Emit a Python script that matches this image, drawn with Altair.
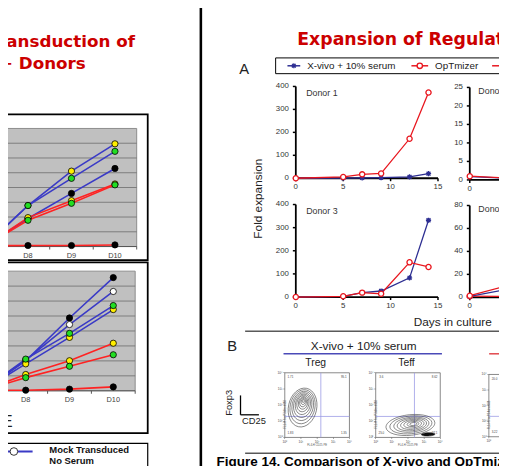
import altair as alt
import pandas as pd

OFF = 8
W, H = 499, 458


def p(v):
    """reference-picture pixel -> chart pixel (page has an 8 px margin)"""
    return v - OFF


SANS = "Liberation Sans"
HEAD = "DejaVu Sans"
TITLE_RED = "#cc0000"
RED = "#e8161e"
NAVY = "#2d2e92"
INK = "#222222"
ASTER = "M-1,0L1,0M0,-1L0,1M-0.75,-0.75L0.75,0.75M-0.75,0.75L0.75,-0.75"
TREG_RING = "M0,-1A0.72,1,0,1,1,0,1A0.72,1,0,1,1,0,-1Z"
TEFF_RING = "M-1,0A1,0.42,0,1,1,1,0A1,0.42,0,1,1,-1,0Z"
STREAK = "M-1,0A1,0.25,0,1,1,1,0A1,0.25,0,1,1,-1,0Z"

# ------------------------------------------------------------------ data
# Left slide: grey Excel-style growth charts (days D7..D10)
left_days = [7, 8, 9, 10]
left_day_labels = ["D8", "D9", "D10"]
left_day_ticks = [8, 9, 10]
left_band_edges = [7.5, 8.5, 9.5, 10.5]
left_x_domain = [6.5, 10.5]
left_y_domain = [0, 8]
left_grid = [1, 2, 3, 4, 5, 6, 7]
left_groups = ["Mock Transduced", "Transduced"]
left_conditions = ["No Serum", "Condition B", "Condition C", "Condition D"]

upper_group = ["Mock Transduced"] * 3 + ["Transduced"] * 3
upper_cond = ["Condition C", "Condition D", "Condition B",
              "Condition C", "Condition D", "Condition B"]
upper_values = [
    [0.0, 2.78, 5.11, 6.96],
    [0.0, 2.78, 4.62, 6.45],
    [0.0, 1.90, 3.60, 5.29],
    [0.0, 1.96, 3.11, 4.24],
    [0.0, 1.78, 2.93, 4.18],
    [0.05, 0.07, 0.07, 0.11],
]
lower_group = ["Mock Transduced"] * 4 + ["Transduced"] * 3
lower_cond = ["Condition B", "No Serum", "Condition C", "Condition D",
              "Condition C", "Condition D", "Condition B"]
lower_values = [
    [0.0, 2.00, 4.87, 7.57],
    [0.0, 2.05, 4.43, 6.64],
    [0.0, 1.80, 3.57, 5.43],
    [0.0, 2.12, 3.84, 5.70],
    [0.0, 1.09, 2.01, 3.18],
    [0.0, 0.88, 1.64, 2.41],
    [0.03, 0.04, 0.11, 0.26],
]

# Right slide, panel A: fold expansion per donor
media = ["X-vivo + 10% serum", "OpTmizer", "OpTmizer + serum"]
donor_x_domain = [0, 15]
donor_x_ticks = [0, 5, 10, 15]
donor_edge_x_ticks = [0]          # Donors 2 and 4 are cut by the picture's right edge
donor_days = [0, 5, 7, 9, 12, 14]
donor1_xvivo = [0, 1, 2, 3, 6, 20]
donor1_optmizer = [0, 5.6, 17, 21, 172, 374]
donor3_xvivo = [0, 3, 19, 26, 83, 332]
donor3_optmizer = [0, 3, 19, 14, 150, 130]
donor2_days = [0, 5]
donor2_xvivo = [0.9, 0.3]
donor2_optmizer = [1.0, 0.35]
donor4_days = [0, 5]
donor4_xvivo = [0.8, 8.5]
donor4_optmizer = [1.4, 12.5]
donor4_third = [1.0, 0.8]
donor13_y_domain = [0, 400]
donor13_y_ticks = [0, 100, 200, 300, 400]
donor2_y_domain = [0, 25]
donor2_y_ticks = [0, 5, 10, 15, 20, 25]
donor4_y_domain = [0, 80]
donor4_y_ticks = [0, 20, 40, 60, 80]

# Panel B: flow plots (log decades 10^0..10^4)
flow_domain = [0, 4]
flow_ticks = [0, 1, 2, 3, 4]
flow_tick_labels = ["10\u2070", "10\u00b9", "10\u00b2", "10\u00b3", "10\u2074"]
flow_x_title = "FL4-H CD25 PE"
flow_y_title = "FL1-H FoxP3 Alexa488"
treg_quadrant = [2.23, 1.30]
teff_quadrant = [2.40, 1.30]
third_quadrant = [2.30, 1.31]
treg_corner = ["1.71", "95.1", "1.83", "1.35"]
teff_corner = ["3.6", "8.62", "25.0", "27.1"]
third_corner = ["20.0", "", "3.22", ""]
corner_x = [0.35, 3.65, 0.35, 3.65]
corner_y = [3.72, 3.72, 0.28, 0.28]
treg_ring_extent = [2.43, 2.13, 1.83, 1.55, 1.28, 1.03, 0.79, 0.58, 0.37, 0.18]
treg_ring_x = [1.10, 1.10, 1.11, 1.11, 1.12, 1.12, 1.13, 1.13, 1.14, 1.14]
treg_ring_y = [1.85, 1.90, 1.95, 2.00, 2.05, 2.10, 2.14, 2.18, 2.22, 2.25]
teff_ring_extent = [3.04, 2.62, 2.19, 1.83, 1.46, 1.10, 0.73, 0.43]
teff_ring_x = [2.15, 2.18, 2.21, 2.24, 2.27, 2.29, 2.31, 2.33]
teff_ring_y = [0.77, 0.78, 0.79, 0.80, 0.81, 0.82, 0.83, 0.83]
teff_streak = {"x": [3.25], "y": [0.19], "e": [0.85]}


# ------------------------------------------------------------------ helpers
def text(t, x, y, size, font=SANS, weight="normal", color=INK, align="left",
         baseline="alphabetic", angle=0):
    return alt.Chart().mark_text(
        text=t, font=font, fontSize=size, fontWeight=weight, color=color,
        align=align, baseline=baseline, angle=angle
    ).encode(x=alt.value(x), y=alt.value(y))


def hrule(x0, x1, y, color="black", w=1.0):
    return alt.Chart().mark_rule(color=color, strokeWidth=w).encode(
        x=alt.value(x0), x2=alt.value(x1), y=alt.value(y))


def vrule(x, y0, y1, color="black", w=1.0):
    return alt.Chart().mark_rule(color=color, strokeWidth=w).encode(
        x=alt.value(x), y=alt.value(y0), y2=alt.value(y1))


def box(x0, x1, y0, y1, stroke="black", w=1.0, fill="white"):
    return alt.Chart().mark_rect(fill=fill, stroke=stroke, strokeWidth=w).encode(
        x=alt.value(x0), x2=alt.value(x1), y=alt.value(y0), y2=alt.value(y1))


def marker(x, y, shape, size, stroke, fill, w=1.3):
    return alt.Chart().mark_point(shape=shape, size=size, stroke=stroke, fill=fill,
                                  strokeWidth=w, filled=True, opacity=1).encode(
        x=alt.value(x), y=alt.value(y))


def X(field, xs):
    return alt.X(field, scale=xs, axis=None)


def Y(field, ys):
    return alt.Y(field, scale=ys, axis=None)


def bottom_axis(xs, ys, xdom, y0, ticks, labels, tick_pos=None, color="black", width=1.0,
                tick_len=3.0, tick_w=1.0, font_size=8, label_gap=2, label_color="#333333",
                title=None, title_size=3, title_gap=8):
    """x axis drawn from marks on the panel's own scales"""
    dom = pd.DataFrame({"a": [xdom[0]], "b": [xdom[1]], "y": [y0]})
    tp = ticks if tick_pos is None else tick_pos
    td = pd.DataFrame({"t": tp, "y": y0})
    ld = pd.DataFrame({"t": ticks, "lab": labels, "y": y0})
    out = []
    if width > 0:
        out.append(alt.Chart(dom).mark_rule(color=color, strokeWidth=width).encode(
            x=X("a:Q", xs), x2="b", y=Y("y:Q", ys)))
    out.append(alt.Chart(td).mark_tick(orient="vertical", size=tick_len, thickness=tick_w,
                                       yOffset=tick_len / 2, color=color, opacity=1).encode(
        x=X("t:Q", xs), y=Y("y:Q", ys)))
    if len(ticks):
        out.append(alt.Chart(ld).mark_text(baseline="top", dy=tick_len + label_gap,
                                           fontSize=font_size, font=SANS,
                                           color=label_color).encode(
            x=X("t:Q", xs), y=Y("y:Q", ys), text="lab:N"))
    if title:
        tdf = pd.DataFrame({"x": [(xdom[0] + xdom[1]) / 2], "y": [y0]})
        out.append(alt.Chart(tdf).mark_text(text=title, baseline="top", dy=title_gap,
                                            fontSize=title_size, font=SANS,
                                            color="#555555").encode(
            x=X("x:Q", xs), y=Y("y:Q", ys)))
    return out


def left_axis(xs, ys, ydom, x0, ticks, labels, color="black", width=1.0, tick_len=3.0,
              tick_w=1.0, font_size=8, label_gap=4, label_color="#333333",
              title=None, title_size=3, title_gap=8):
    """y axis drawn from marks on the panel's own scales"""
    dom = pd.DataFrame({"x": [x0], "a": [ydom[0]], "b": [ydom[1]]})
    td = pd.DataFrame({"t": ticks, "x": x0, "lab": labels})
    out = []
    if width > 0:
        out.append(alt.Chart(dom).mark_rule(color=color, strokeWidth=width).encode(
            x=X("x:Q", xs), y=Y("a:Q", ys), y2="b"))
    out.append(alt.Chart(td).mark_tick(orient="horizontal", size=tick_len, thickness=tick_w,
                                       xOffset=-tick_len / 2, color=color, opacity=1).encode(
        x=X("x:Q", xs), y=Y("t:Q", ys)))
    out.append(alt.Chart(td).mark_text(align="right", baseline="middle",
                                       dx=-(tick_len + label_gap), fontSize=font_size,
                                       font=SANS, color=label_color).encode(
        x=X("x:Q", xs), y=Y("t:Q", ys), text="lab:N"))
    if title:
        tdf = pd.DataFrame({"x": [x0], "y": [(ydom[0] + ydom[1]) / 2]})
        out.append(alt.Chart(tdf).mark_text(text=title, align="center", baseline="middle",
                                            angle=270, dx=-title_gap, fontSize=title_size,
                                            font=SANS, color="#555555").encode(
            x=X("x:Q", xs), y=Y("y:Q", ys)))
    return out


# ------------------------------------------------------------------ left charts
group_scale = alt.Scale(domain=left_groups, range=["#3a3ac6", "#ff2222"])
cond_scale = alt.Scale(domain=left_conditions,
                       range=["#ffffff", "#000000", "#ffee00", "#22dd22"])


def left_frame(group, cond, values):
    rows = []
    for sid, (g, c, vals) in enumerate(zip(group, cond, values)):
        for d, v in zip(left_days, vals):
            rows.append({"series": sid, "group": g, "cond": c, "day": d, "value": v})
    return pd.DataFrame(rows)


def grey_chart(df, xr, yr):
    xs = alt.Scale(domain=left_x_domain, range=xr, nice=False, zero=False)
    ys = alt.Scale(domain=left_y_domain, range=yr, nice=False, zero=False)
    frame = pd.DataFrame({"x0": [left_x_domain[0]], "x1": [left_x_domain[1]],
                          "y0": [left_y_domain[0]], "y1": [left_y_domain[1]]})
    grid = pd.DataFrame({"g": left_grid, "x0": left_x_domain[0], "x1": left_x_domain[1]})
    bg = alt.Chart(frame).mark_rect(fill="#c0c0c0", stroke="#8c8c8c", strokeWidth=1).encode(
        x=X("x0:Q", xs), x2="x1", y=Y("y0:Q", ys), y2="y1")
    gl = alt.Chart(grid).mark_rule(color="#6b6b6b", strokeWidth=0.8).encode(
        x=X("x0:Q", xs), x2="x1", y=Y("g:Q", ys))
    lines = alt.Chart(df).mark_line(strokeWidth=1.6).encode(
        x=X("day:Q", xs), y=Y("value:Q", ys),
        color=alt.Color("group:N", scale=group_scale, legend=None),
        detail="series:N")
    pts = alt.Chart(df).mark_circle(size=40, stroke="#000000", strokeWidth=0.8, opacity=1).encode(
        x=X("day:Q", xs), y=Y("value:Q", ys),
        fill=alt.Fill("cond:N", scale=cond_scale, legend=None))
    axis = bottom_axis(xs, ys, left_x_domain, left_y_domain[0], left_day_ticks, left_day_labels,
                       tick_pos=left_band_edges, color="#555555",
                       width=1.0, tick_len=3, tick_w=1, font_size=7.5, label_gap=2.5,
                       label_color="#444444")
    return alt.layer(bg, gl, *axis, lines, pts)


upper_chart = grey_chart(left_frame(upper_group, upper_cond, upper_values),
                         [p(-38), p(138.8)], [p(246.7), p(126.7)])
lower_chart = grey_chart(left_frame(lower_group, lower_cond, lower_values),
                         [p(-40.75), p(137.25)], [p(393.3), p(271.7)])

# ------------------------------------------------------------------ donor charts
media_color = alt.Scale(domain=media, range=[NAVY, RED, RED])
media_fill = alt.Scale(domain=media, range=["white", "white", RED])
media_shape = alt.Scale(domain=media, range=[ASTER, "circle", "circle"])


def donor_chart(days, series, xr, ydom, yr, yticks, xticks):
    rows = []
    for m, vals in series:
        for d, v in zip(days, vals):
            rows.append({"day": d, "value": v, "medium": m})
    df = pd.DataFrame(rows)
    xs = alt.Scale(domain=donor_x_domain, range=xr, nice=False, zero=False)
    ys = alt.Scale(domain=ydom, range=yr, nice=False, zero=False)
    xa = bottom_axis(xs, ys, donor_x_domain, ydom[0], xticks,
                     [str(t) for t in xticks], width=1.8, tick_len=3, tick_w=1.5,
                     font_size=8, label_gap=2)
    ya = left_axis(xs, ys, ydom, donor_x_domain[0], yticks, [str(t) for t in yticks],
                   width=1.8, tick_len=3, tick_w=1.5, font_size=8, label_gap=4)
    lines = alt.Chart(df).mark_line(strokeWidth=1.3).encode(
        x=X("day:Q", xs), y=Y("value:Q", ys),
        color=alt.Color("medium:N", scale=media_color, legend=None))
    pts = alt.Chart(df).mark_point(filled=False, size=28, strokeWidth=1.3, opacity=1).encode(
        x=X("day:Q", xs), y=Y("value:Q", ys),
        color=alt.Color("medium:N", scale=media_color, legend=None),
        fill=alt.Fill("medium:N", scale=media_fill, legend=None),
        shape=alt.Shape("medium:N", scale=media_shape, legend=None))
    return alt.layer(*xa, *ya, lines, pts)


d1 = donor_chart(donor_days, [(media[0], donor1_xvivo), (media[1], donor1_optmizer)],
                 [p(300.5), p(445)], donor13_y_domain, [p(177.3), p(84)], donor13_y_ticks,
                 donor_x_ticks)
d3 = donor_chart(donor_days, [(media[0], donor3_xvivo), (media[1], donor3_optmizer)],
                 [p(300.5), p(445)], donor13_y_domain, [p(298), p(204)], donor13_y_ticks,
                 donor_x_ticks)
d2 = donor_chart(donor2_days, [(media[0], donor2_xvivo), (media[1], donor2_optmizer)],
                 [p(477.3), p(621.8)], donor2_y_domain, [p(179), p(85)], donor2_y_ticks,
                 donor_edge_x_ticks)
d4 = donor_chart(donor4_days, [(media[2], donor4_third), (media[0], donor4_xvivo),
                               (media[1], donor4_optmizer)],
                 [p(477.3), p(621.8)], donor4_y_domain, [p(298.3), p(205)], donor4_y_ticks,
                 donor_edge_x_ticks)


# ------------------------------------------------------------------ flow plots
def flow_chart(xr, yr, quadrant, corners, rings=None, ring_shape=None, angle=0, streak=None,
               x_ticks=None, x_title=flow_x_title):
    xs = alt.Scale(domain=flow_domain, range=xr, nice=False, zero=False)
    ys = alt.Scale(domain=flow_domain, range=yr, nice=False, zero=False)
    px_per = (xr[1] - xr[0]) / (flow_domain[1] - flow_domain[0])
    size_scale = alt.Scale(type="pow", exponent=2, domain=flow_domain,
                           range=[0, (px_per * flow_domain[1]) ** 2])
    n_x = len(flow_ticks) if x_ticks is None else x_ticks
    frame = pd.DataFrame({"a": [flow_domain[0]], "b": [flow_domain[1]]})
    fr = alt.Chart(frame).mark_rect(fill="white", stroke="#555555", strokeWidth=0.7).encode(
        x=X("a:Q", xs), x2="b", y=Y("a:Q", ys), y2="b")
    xa = bottom_axis(xs, ys, flow_domain, flow_domain[0], flow_ticks[:n_x],
                     flow_tick_labels[:n_x], tick_pos=flow_ticks,
                     color="#555555", width=0, tick_len=1.5, tick_w=0.5, font_size=3.3,
                     label_gap=0.8, label_color="#444444", title=x_title,
                     title_size=2.8, title_gap=6.5)
    ya = left_axis(xs, ys, flow_domain, flow_domain[0], flow_ticks, flow_tick_labels,
                   color="#555555", width=0, tick_len=1.5, tick_w=0.5, font_size=3.3,
                   label_gap=0.8, label_color="#444444", title=flow_y_title,
                   title_size=2.8, title_gap=9.5)
    qd = pd.DataFrame({"v": [quadrant[0]], "h": [quadrant[1]],
                       "a": [flow_domain[0]], "b": [flow_domain[1]]})
    qv = alt.Chart(qd).mark_rule(color="#9c9ce6", strokeWidth=0.8).encode(
        x=X("v:Q", xs), y=Y("a:Q", ys), y2="b")
    qh = alt.Chart(qd).mark_rule(color="#9c9ce6", strokeWidth=0.8).encode(
        y=Y("h:Q", ys), x=X("a:Q", xs), x2="b")
    ct = pd.DataFrame({"x": corner_x, "y": corner_y, "t": corners})
    ct = ct[ct["t"] != ""]
    cts = alt.Chart(ct).mark_text(fontSize=3, font=SANS, color="#444444").encode(
        x=X("x:Q", xs), y=Y("y:Q", ys), text="t:N")
    layers = [fr, *xa, *ya, qv, qh, cts]
    if rings is not None:
        rd = pd.DataFrame({"x": rings[0], "y": rings[1], "e": rings[2]})
        layers.append(alt.Chart(rd).mark_point(shape=ring_shape, filled=False, stroke="#333333",
                                               strokeWidth=0.55, opacity=1, angle=angle).encode(
            x=X("x:Q", xs), y=Y("y:Q", ys),
            size=alt.Size("e:Q", scale=size_scale, legend=None)))
    if streak is not None:
        sd = pd.DataFrame(streak)
        layers.append(alt.Chart(sd).mark_point(shape=STREAK, filled=True, fill="#111111",
                                               stroke="#111111", strokeWidth=0.5, opacity=1,
                                               angle=358).encode(
            x=X("x:Q", xs), y=Y("y:Q", ys),
            size=alt.Size("e:Q", scale=size_scale, legend=None)))
    return alt.layer(*layers)


treg = flow_chart([p(289.3), p(355)], [p(440.7), p(375)], treg_quadrant, treg_corner,
                  (treg_ring_x, treg_ring_y, treg_ring_extent), TREG_RING, 12)
teff = flow_chart([p(381.7), p(447.3)], [p(440.7), p(375)], teff_quadrant, teff_corner,
                  (teff_ring_x, teff_ring_y, teff_ring_extent), TEFF_RING, 354, teff_streak)
third = flow_chart([p(496.7), p(562.3)], [p(440), p(376.7)], third_quadrant, third_corner,
                   x_ticks=1, x_title=None)

# ------------------------------------------------------------------ decorations
deco_back = [
    box(-20, p(150), p(112.3), p(260.5), w=1.8),
    box(-20, p(150), p(262.7), p(436.3), w=1.8),
    box(-20, p(150), p(446.7), 480, w=1.2),
    vrule(p(204), -10, 470, w=2.6),
]

deco_front = [
    # left slide
    text("Transduction of", p(137), p(44), 17, font=HEAD, weight="bold",
         color=TITLE_RED, align="right"),
    text("+ Donors", p(87), p(66.7), 17, font=HEAD, weight="bold",
         color=TITLE_RED, align="right"),
    text("E", p(1.5), p(430), 17),
    hrule(-20, p(33), p(455), color="#3a3ac6", w=2),
    marker(p(14), p(455), "circle", 60, "#333333", "white", 1),
    text("Mock Transduced", p(50), p(457), 9.6, weight="bold", color="#111111"),
    text("No Serum", p(50), p(468), 9.6, weight="bold", color="#111111"),
    # right slide header
    text("Expansion of Regulatory T cells", p(302), p(41.7), 17.6, font=HEAD,
         weight="bold", color=TITLE_RED),
    text("A", p(243), p(71), 15),
    box(p(280), 520, p(55), p(71), w=1),
    hrule(p(292), p(305), p(63), color=NAVY, w=1.5),
    marker(p(298.5), p(63), ASTER, 25, NAVY, "white", 1.2),
    text(media[0], p(312), p(66.5), 10),
    hrule(p(418), p(435), p(63), color=RED, w=1.5),
    marker(p(426.5), p(63), "circle", 30, RED, "white", 1.4),
    text(media[1], p(442), p(66.5), 10),
    hrule(p(500), p(517), p(63), color=RED, w=1.5),
    text("Donor 1", p(311), p(93.3), 9, color="#333333"),
    text("Donor 3", p(311), p(213.7), 9, color="#333333"),
    text("Donor 2", p(486), p(91.5), 9, color="#333333"),
    text("Donor 4", p(486), p(211.5), 9, color="#333333"),
    text("Fold expansion", p(262.5), p(198), 12, align="center", baseline="middle", angle=270),
    text("Days in culture", p(460), p(327.5), 12, align="center"),
    hrule(p(249), 520, p(332.7), w=1),
    # panel B
    text("B", p(230.7), p(352.7), 15),
    text("X-vivo + 10% serum", p(369.5), p(351.7), 12, align="center"),
    hrule(p(288), p(449), p(355.7), color="#4a4ab8", w=1.5),
    hrule(p(497), 520, p(355.7), color="#e0454a", w=1.5),
    text("Treg", p(320.7), p(368), 10.5, align="center"),
    text("Teff", p(413), p(368), 10.5, align="center"),
    text("Foxp3", p(232.5), p(405.5), 9.5, align="center", baseline="middle", angle=270),
    text("CD25", p(258), p(427), 9.5, align="center"),
    vrule(p(244.3), p(398), p(417.7), w=1.3),
    hrule(p(244.3), p(263), p(417.7), w=1.3),
    hrule(p(249), 520, p(456.7), w=1),
    text("Figure 14. Comparison of X-vivo and OpTmizer media", p(220), p(469.5), 13.7,
         weight="bold", color="#000000"),
]

chart = alt.layer(
    *deco_back, upper_chart, lower_chart, d1, d3, d2, d4, treg, teff, third, *deco_front
).resolve_scale(
    x="independent", y="independent", color="independent", fill="independent",
    shape="independent", size="independent"
).properties(
    width=W, height=H, padding=0, background="white",
    autosize=alt.AutoSizeParams(type="none")
).configure_view(stroke=None)

chart.save("out.html", embed_options={"renderer": "svg", "actions": False})
